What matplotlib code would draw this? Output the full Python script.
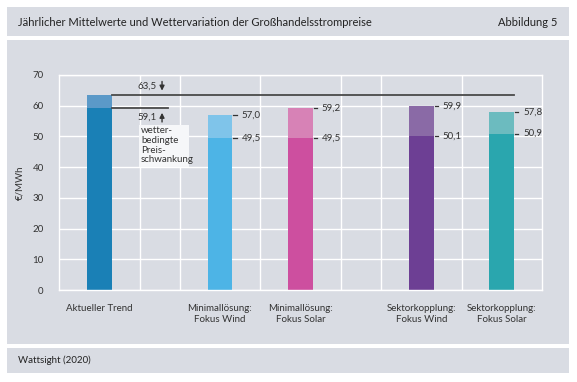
import matplotlib
matplotlib.use("Agg")
import matplotlib.pyplot as plt
from matplotlib.patches import Rectangle

plt.rcParams["font.family"] = ["Lato", "DejaVu Sans"]

categories = ["Aktueller Trend", "Minimallösung:\nFokus Wind", "Minimallösung:\nFokus Solar",
              "Sektorkopplung:\nFokus Wind", "Sektorkopplung:\nFokus Solar"]
base_values = [59.1, 49.5, 49.5, 50.1, 50.9]
top_values = [63.5, 57.0, 59.2, 59.9, 57.8]
base_labels = ["59,1", "49,5", "49,5", "50,1", "50,9"]
top_labels = ["63,5", "57,0", "59,2", "59,9", "57,8"]
yticks = [0, 10, 20, 30, 40, 50, 60, 70]

# layout
xpos = [0, 1.5, 2.5, 4, 5]
vgrid = [0.5, 1, 2, 3, 3.5, 4.5]
width = 0.31
dark = ["#1a80b6", "#4db4e6", "#cd4f9f", "#6d3f94", "#2aa6ae"]
light = ["#5b99c8", "#7fc4ea", "#d782b6", "#8a6aa6", "#6cbbbf"]
PANEL = "#d9dce3"
TXT = "#333333"
FS = 7.0
W, H = 577, 382

fig = plt.figure(figsize=(W / 100, H / 100), dpi=100)
fig.patch.set_facecolor("white")


def panel(x0, y0, x1, y1):
    fig.add_artist(Rectangle((x0 / W, 1 - y1 / H), (x1 - x0) / W, (y1 - y0) / H,
                             transform=fig.transFigure, facecolor=PANEL,
                             edgecolor="none", zorder=0))


panel(7, 7, 569, 36)
panel(7, 40, 569, 344)
panel(7, 348, 569, 373)

fig.text(18 / W, 1 - 22 / H, "Jährlicher Mittelwerte und Wettervariation der Großhandelsstrompreise",
         fontsize=8.0, va="center", ha="left", color="#222222")
fig.text(557 / W, 1 - 22 / H, "Abbildung 5", fontsize=8.0, va="center", ha="right", color="#222222")
fig.text(18 / W, 1 - 360 / H, "Wattsight (2020)", fontsize=FS, va="center", ha="left", color="#222222")

ax = fig.add_axes([59 / W, 1 - 290 / H, (542 - 59) / W, (290 - 75) / H])
ax.set_facecolor(PANEL)
ax.set_xlim(-0.5, 5.5)
ax.set_ylim(0, 70)
for s in ax.spines.values():
    s.set_color("white")
    s.set_linewidth(1.0)
ax.set_yticks(yticks)
ax.set_yticklabels([str(v) for v in yticks])
ax.yaxis.grid(True, color="white", linewidth=1.0)
for xv in vgrid:
    ax.axvline(xv, color="white", linewidth=1.0, zorder=0.5)
ax.set_axisbelow(True)
ax.tick_params(length=0, labelsize=FS, labelcolor=TXT, pad=11)
ax.tick_params(axis="x", pad=10)
ax.set_xticks(xpos)
ax.set_xticklabels(categories, fontsize=FS, linespacing=1.3, va="top")
ax.set_ylabel("€/MWh", fontsize=FS, color=TXT, labelpad=6)

ax.bar(xpos, base_values, width=width, color=dark, zorder=2)
ax.bar(xpos, [t - b for t, b in zip(top_values, base_values)], bottom=base_values,
       width=width, color=light, zorder=2)

# value labels for scenario bars
for i in range(1, 5):
    x_edge = xpos[i] + width / 2
    for v, lab in ((top_values[i], top_labels[i]), (base_values[i], base_labels[i])):
        ax.plot([x_edge + 0.01, x_edge + 0.05], [v, v], color=TXT, lw=0.9, zorder=3)
        ax.text(x_edge + 0.11, v, lab, fontsize=FS, va="center", ha="left", color=TXT)

# reference lines for current trend
x_right = xpos[0] + width / 2
ax.plot([x_right, xpos[4] + width / 2], [top_values[0], top_values[0]], color="#4a4a4a", lw=1.3, zorder=3)
ax.plot([x_right, 0.85], [base_values[0], base_values[0]], color="#4a4a4a", lw=1.3, zorder=3)
ax.annotate("", xy=(0.78, top_values[0] + 0.5), xytext=(0.78, 68.8),
            arrowprops=dict(arrowstyle="-|>", color=TXT, lw=1.0, mutation_scale=7))
ax.annotate("", xy=(0.78, base_values[0] - 0.5), xytext=(0.78, 53.8),
            arrowprops=dict(arrowstyle="-|>", color=TXT, lw=1.0, mutation_scale=7))
ax.text(0.71, 66.3, top_labels[0], fontsize=FS, ha="right", va="center", color=TXT)
ax.text(0.71, 56.3, base_labels[0], fontsize=FS, ha="right", va="center", color=TXT)
ax.add_patch(Rectangle((0.49, 40.2), 0.63, 13.6, facecolor="#f6f7f9", edgecolor="none", zorder=2.5))
ax.text(0.52, 53.3, "wetter-\nbedingte\nPreis-\nschwankung", fontsize=FS, ha="left", va="top",
        color=TXT, linespacing=1.1, zorder=3)

fig.savefig("out.png", dpi=100, facecolor="white")
